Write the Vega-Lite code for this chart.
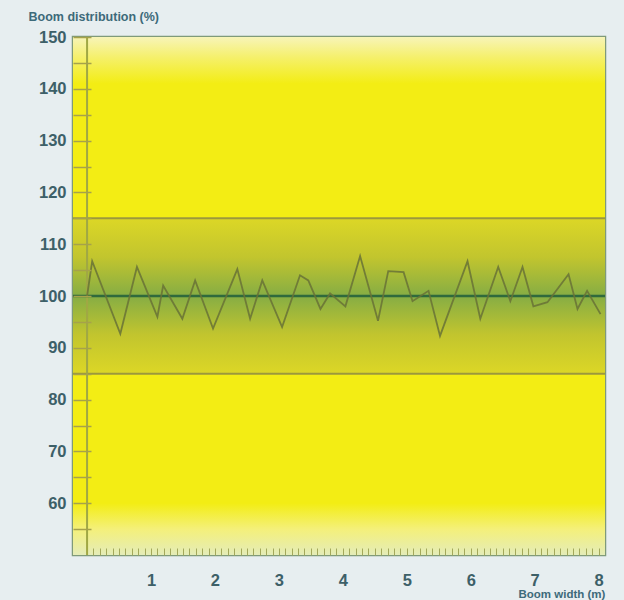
{
  "$schema": "https://vega.github.io/schema/vega-lite/v6.json",
  "width": 532,
  "height": 518,
  "autosize": "none",
  "padding": {"left": 73, "top": 37, "right": 19, "bottom": 45},
  "background": "#e7eef0",
  "config": {
    "view": {"stroke": "#7f9a7a", "strokeWidth": 2.5, "fill": "#f3ed12"},
    "font": "Liberation Sans"
  },
  "datasets": {
    "band": [{"lo": 85, "hi": 115}],
    "full": [{"lo": 50, "hi": 150}],
    "limits": [{"y": 115}, {"y": 85}],
    "target": [{"y": 100}],
    "origin": [{"x": 0}],
    "profile": [
      {"x": 0.0, "y": 100},
      {"x": 0.08, "y": 106.7},
      {"x": 0.52, "y": 92.7},
      {"x": 0.78, "y": 105.6},
      {"x": 1.1, "y": 96},
      {"x": 1.19, "y": 102},
      {"x": 1.49, "y": 95.6},
      {"x": 1.69, "y": 103},
      {"x": 1.97, "y": 93.7},
      {"x": 2.35, "y": 105.2},
      {"x": 2.55, "y": 95.6},
      {"x": 2.74, "y": 103},
      {"x": 3.05, "y": 94},
      {"x": 3.33, "y": 104},
      {"x": 3.46, "y": 103},
      {"x": 3.65, "y": 97.5},
      {"x": 3.8, "y": 100.5},
      {"x": 4.04, "y": 98},
      {"x": 4.27, "y": 107.7},
      {"x": 4.55, "y": 95.2},
      {"x": 4.71, "y": 104.8},
      {"x": 4.95, "y": 104.6},
      {"x": 5.09, "y": 99},
      {"x": 5.34, "y": 101},
      {"x": 5.52, "y": 92.3},
      {"x": 5.95, "y": 106.7},
      {"x": 6.15, "y": 95.6},
      {"x": 6.43, "y": 105.6},
      {"x": 6.62, "y": 99},
      {"x": 6.81, "y": 105.6},
      {"x": 6.98, "y": 98},
      {"x": 7.2, "y": 98.8},
      {"x": 7.53, "y": 104.2},
      {"x": 7.67, "y": 97.5},
      {"x": 7.82, "y": 101},
      {"x": 8.03, "y": 96.5}
    ]
  },
  "layer": [
    {
      "data": {"name": "full"},
      "mark": {
        "type": "rect",
        "fill": {
          "gradient": "linear", "x1": 0, "y1": 0, "x2": 0, "y2": 1,
          "stops": [
            {"offset": 0, "color": "#f7f4b8"},
            {"offset": 0.04, "color": "#f5f06a"},
            {"offset": 0.09, "color": "#f3ed14"},
            {"offset": 0.9, "color": "#f3ed14"},
            {"offset": 0.95, "color": "#f4f07a"},
            {"offset": 1, "color": "#e4ecb8"}
          ]
        }
      },
      "encoding": {
        "y": {"field": "lo", "type": "quantitative", "scale": {"domain": [50, 150], "nice": false, "zero": false},
          "axis": {
            "values": [55, 60, 65, 70, 75, 80, 85, 90, 95, 100, 105, 110, 115, 120, 125, 130, 135, 140, 145, 150],
            "tickCount": 200,
            "labelExpr": "(datum.value == 60 || datum.value == 70 || datum.value == 80 || datum.value == 90 || datum.value == 100 || datum.value == 110 || datum.value == 120 || datum.value == 130 || datum.value == 140 || datum.value == 150) ? format(datum.value, 'd') : ''",
            "labelOverlap": false, "labelFlush": false,
            "labelFontSize": 16.5, "labelFontWeight": "bold", "labelColor": "#3d6068", "labelPadding": 25,
            "tickSize": -18, "tickColor": "#a6a24a", "tickWidth": 1.5,
            "domain": false, "grid": false, "zindex": 2,
            "title": "Boom distribution (%)", "titleAngle": 0, "titleAlign": "left", "titleBaseline": "middle",
            "titleX": -45, "titleY": -21, "titleFontSize": 12.5, "titleFontWeight": "bold", "titleColor": "#3d6a7a"
          }},
        "y2": {"field": "hi"}
      }
    },
    {
      "data": {"name": "band"},
      "mark": {
        "type": "rect",
        "fill": {
          "gradient": "linear", "x1": 0, "y1": 0, "x2": 0, "y2": 1,
          "stops": [
            {"offset": 0, "color": "#dcd726"},
            {"offset": 0.25, "color": "#c2c52e"},
            {"offset": 0.5, "color": "#86ad44"},
            {"offset": 0.75, "color": "#c2c52e"},
            {"offset": 1, "color": "#dcd726"}
          ]
        }
      },
      "encoding": {
        "y": {"field": "lo", "type": "quantitative"},
        "y2": {"field": "hi"}
      }
    },
    {
      "data": {"name": "limits"},
      "mark": {"type": "rule", "color": "#9c983c", "strokeWidth": 2},
      "encoding": {"y": {"field": "y", "type": "quantitative"}}
    },
    {
      "data": {"name": "origin"},
      "mark": {"type": "rule", "color": "#a0a844", "strokeWidth": 2},
      "encoding": {
        "x": {"field": "x", "type": "quantitative", "scale": {"domain": [-0.22, 8.1], "nice": false, "zero": false},
          "axis": {
            "values": [0.1,0.2,0.3,0.4,0.5,0.6,0.7,0.8,0.9,1,1.1,1.2,1.3,1.4,1.5,1.6,1.7,1.8,1.9,2,2.1,2.2,2.3,2.4,2.5,2.6,2.7,2.8,2.9,3,3.1,3.2,3.3,3.4,3.5,3.6,3.7,3.8,3.9,4,4.1,4.2,4.3,4.4,4.5,4.6,4.7,4.8,4.9,5,5.1,5.2,5.3,5.4,5.5,5.6,5.7,5.8,5.9,6,6.1,6.2,6.3,6.4,6.5,6.6,6.7,6.8,6.9,7,7.1,7.2,7.3,7.4,7.5,7.6,7.7,7.8,7.9,8],
            "tickCount": 200,
            "labelExpr": "(datum.value == 1 || datum.value == 2 || datum.value == 3 || datum.value == 4 || datum.value == 5 || datum.value == 6 || datum.value == 7 || datum.value == 8) ? format(datum.value, 'd') : ''",
            "labelOverlap": false, "labelFlush": false,
            "labelFontSize": 16.5, "labelFontWeight": "bold", "labelColor": "#3d6068", "labelPadding": 24,
            "tickSize": -7, "tickColor": "#a3a85a", "tickWidth": 1,
            "domain": false, "grid": false, "zindex": 2,
            "title": "Boom width (m)", "titleAlign": "left", "titleBaseline": "middle",
            "titleX": 445, "titleY": 39, "titleFontSize": 11.5, "titleFontWeight": "bold", "titleColor": "#3d6a7a"
          }}
      }
    },
    {
      "data": {"name": "target"},
      "mark": {"type": "rule", "color": "#2f6a3c", "strokeWidth": 2.5},
      "encoding": {"y": {"field": "y", "type": "quantitative"}}
    },
    {
      "data": {"name": "profile"},
      "mark": {"type": "line", "color": "#687236", "strokeWidth": 1.8, "opacity": 0.85},
      "encoding": {
        "x": {"field": "x", "type": "quantitative"},
        "y": {"field": "y", "type": "quantitative"}
      }
    }
  ]
}
